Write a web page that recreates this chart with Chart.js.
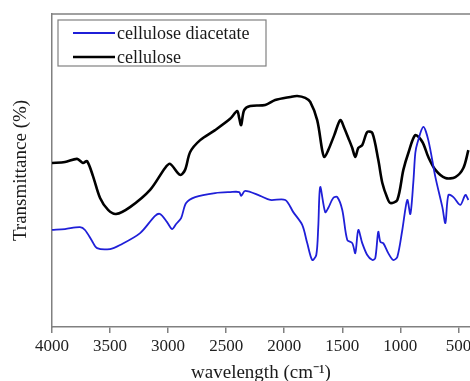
<!DOCTYPE html>
<html>
<head>
<meta charset="utf-8">
<script src="https://cdn.jsdelivr.net/npm/chart.js@4.4.0/dist/chart.umd.min.js"></script>
<style>
  html, body { margin: 0; padding: 0; background: #fff; }
  #wrap { width: 470px; height: 381px; }
</style>
</head>
<body>
<div id="wrap"><canvas id="irChart"></canvas></div>
<script>
// wavenumbers (cm-1) and transmittance (arbitrary 0-100 scale)
const celluloseWn = [4000, 3888, 3784, 3733, 3698, 3647, 3586, 3517, 3448, 3328, 3155, 3026, 2983, 2897, 2854, 2810, 2724, 2595, 2466, 2405, 2388, 2371, 2345, 2293, 2164, 2078, 1948, 1888, 1819, 1776, 1716, 1673, 1655, 1621, 1569, 1517, 1483, 1448, 1414, 1388, 1362, 1328, 1285, 1241, 1190, 1155, 1112, 1086, 1026, 974, 931, 871, 810, 759, 698, 612, 526, 457, 414];
const celluloseT = [52.4, 52.7, 53.7, 52.4, 53.0, 48.2, 41.2, 37.4, 36.1, 38.3, 43.8, 50.8, 52.1, 48.6, 50.2, 55.9, 59.7, 62.9, 66.5, 69.0, 66.8, 64.5, 69.3, 70.6, 70.9, 72.5, 73.5, 73.8, 73.2, 71.9, 66.1, 56.5, 54.3, 56.5, 61.3, 66.1, 63.6, 60.4, 57.2, 54.3, 57.2, 58.1, 62.3, 62.0, 53.4, 46.0, 41.2, 39.6, 40.6, 50.2, 55.6, 61.3, 59.1, 54.3, 50.2, 47.6, 47.9, 50.8, 56.5];

const diacetateWn = [4000, 3888, 3759, 3716, 3655, 3612, 3500, 3414, 3241, 3112, 3069, 3009, 2966, 2931, 2888, 2845, 2767, 2595, 2466, 2388, 2371, 2336, 2207, 2121, 1991, 1922, 1845, 1802, 1759, 1724, 1707, 1690, 1647, 1621, 1578, 1543, 1500, 1457, 1414, 1388, 1362, 1328, 1285, 1241, 1216, 1190, 1172, 1147, 1104, 1061, 1026, 983, 940, 914, 888, 871, 853, 802, 759, 698, 638, 612, 586, 543, 483, 440, 414];
const diacetateT = [31.0, 31.3, 31.9, 31.0, 27.5, 25.2, 24.9, 26.2, 30.0, 35.5, 36.1, 33.5, 31.3, 32.9, 34.8, 39.6, 41.5, 42.8, 43.1, 43.1, 41.9, 43.5, 41.9, 40.6, 40.6, 36.7, 32.6, 26.8, 21.4, 23.0, 31.9, 44.7, 36.7, 38.0, 41.2, 41.5, 37.4, 27.8, 26.8, 23.6, 31.0, 26.8, 23.0, 21.4, 22.0, 30.4, 27.2, 26.8, 23.6, 21.4, 22.4, 31.0, 40.6, 36.1, 46.3, 55.6, 58.8, 63.9, 59.7, 47.9, 38.3, 33.2, 42.2, 41.5, 39.0, 42.2, 40.6];

const xTicks = [4000, 3500, 3000, 2500, 2000, 1500, 1000, 500];

const serif = '"Liberation Serif", "Times New Roman", serif';
const axisGray = '#808080';

const toPoints = (xs, ys) => xs.map((x, i) => ({ x: x, y: ys[i] }));

// legend drawn inside the plot with a frame, like the original
const boxLegend = {
    id: 'boxLegend',
    afterDraw(chart) {
        const { ctx, chartArea } = chart;
        const x0 = chartArea.left + 6;
        const y0 = chartArea.top + 6;
        ctx.save();
        // top frame line
        ctx.strokeStyle = axisGray;
        ctx.lineWidth = 1.5;
        ctx.beginPath();
        ctx.moveTo(chartArea.left, chartArea.top);
        ctx.lineTo(chartArea.right, chartArea.top);
        ctx.stroke();

        ctx.lineWidth = 1.2;
        ctx.strokeRect(x0, y0, 208, 46);
        ctx.font = '18px ' + serif;
        ctx.textBaseline = 'middle';
        chart.data.datasets.forEach((ds, i) => {
            const y = y0 + 13 + i * 24;
            ctx.strokeStyle = ds.borderColor;
            ctx.lineWidth = ds.borderWidth;
            ctx.beginPath();
            ctx.moveTo(x0 + 15, y);
            ctx.lineTo(x0 + 57, y);
            ctx.stroke();
            ctx.fillStyle = '#1a1a1a';
            ctx.fillText(ds.label, x0 + 59, y + 1);
        });
        ctx.restore();
    }
};

new Chart(document.getElementById('irChart'), {
    type: 'line',
    data: {
        datasets: [
            {
                label: 'cellulose diacetate',
                data: toPoints(diacetateWn, diacetateT),
                borderColor: '#1f1fd8',
                borderWidth: 1.8,
                pointRadius: 0,
                tension: 0.3,
                fill: false
            },
            {
                label: 'cellulose',
                data: toPoints(celluloseWn, celluloseT),
                borderColor: '#000000',
                borderWidth: 2.6,
                pointRadius: 0,
                tension: 0.3,
                fill: false
            }
        ]
    },
    options: {
        responsive: true,
        maintainAspectRatio: false,
        animation: false,
        layout: { padding: { top: 14, right: 0, bottom: 0, left: 0 } },
        plugins: {
            legend: { display: false },
            tooltip: { enabled: false }
        },
        scales: {
            x: {
                type: 'linear',
                reverse: true,
                min: 400,
                max: 4000,
                afterBuildTicks: (s) => { s.ticks = xTicks.map(v => ({ value: v })); },
                afterFit: (s) => {
                    s.height = 54;
                    // plot runs to the right edge, as in the cropped original
                    s.paddingLeft = 0;
                    s.paddingRight = 0;
                },
                ticks: {
                    font: { family: serif, size: 17 },
                    color: '#222',
                    padding: 3,
                    maxRotation: 0,
                    autoSkip: false,
                    callback: (v) => String(v)
                },
                grid: { drawOnChartArea: false, drawTicks: true, tickLength: 6, color: axisGray, lineWidth: 1.5 },
                border: { color: axisGray, width: 1.5 },
                title: {
                    display: true,
                    text: 'wavelength (cm⁻¹)',
                    font: { family: serif, size: 19 },
                    color: '#1a1a1a',
                    padding: { top: 0, bottom: -3 }
                }
            },
            y: {
                min: 0,
                max: 100,
                afterFit: (s) => { s.width = 52; },
                ticks: { display: false },
                grid: { display: false },
                border: { color: axisGray, width: 1.5 },
                title: {
                    display: true,
                    text: 'Transmittance (%)',
                    font: { family: serif, size: 19 },
                    color: '#1a1a1a',
                    padding: { top: 10, bottom: 0 }
                }
            }
        }
    },
    plugins: [boxLegend]
});
</script>
</body>
</html>
